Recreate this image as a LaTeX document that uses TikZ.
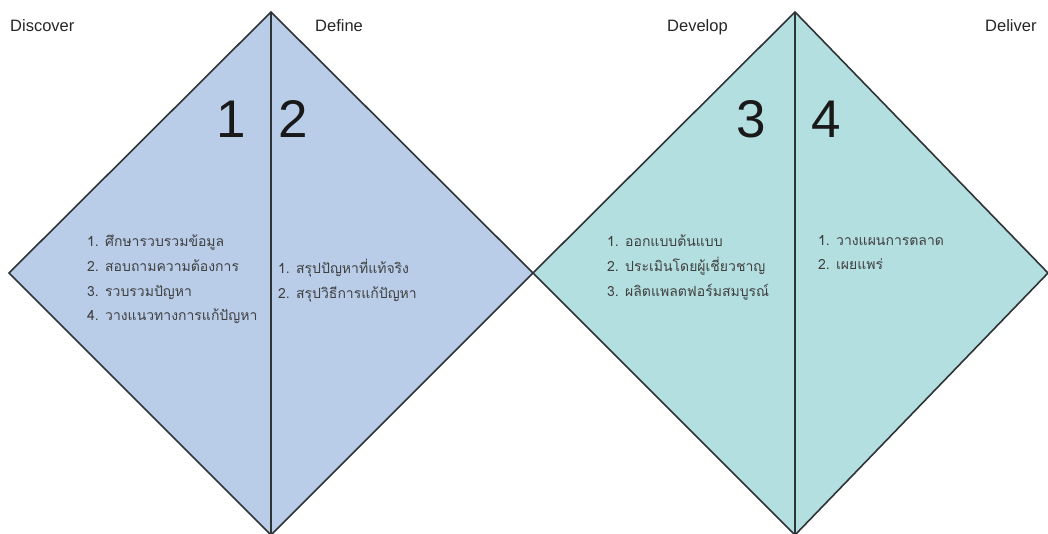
\documentclass[tikz,border=0pt]{standalone}
\usepackage{fontspec}
\setmainfont{Liberation Sans}
\newfontfamily\thaifont[Script=Thai]{Loma}
\definecolor{leftfill}{HTML}{B9CDE9}
\definecolor{rightfill}{HTML}{B4DFE0}
\definecolor{edge}{HTML}{2E3336}
\begin{document}
\begin{tikzpicture}[x=1pt,y=-1pt,
  frame/.style={draw=edge, line width=1.6pt, line join=miter},
  divider/.style={draw=edge, line width=1.6pt},
  phase/.style={font=\fontsize{16.5}{19}\selectfont, anchor=base west, inner sep=0, text=black!85},
  num/.style={font=\fontsize{53}{60}\selectfont, anchor=base, inner sep=0, text=black!90},
  items/.style={font=\thaifont\fontsize{14}{24.7}\selectfont, align=left, anchor=north west, inner sep=0, text=black!75}]
\useasboundingbox (0,0) rectangle (1048,534);
\begin{scope}
\clip (0,0) rectangle (1048,534);
% left diamond
\coordinate (lw) at (9,273);
\coordinate (lt) at (271,12);
\coordinate (mid) at (533,273);
\coordinate (lb) at (271,535);
% right diamond
\coordinate (rt) at (795,12);
\coordinate (re) at (1048,273);
\coordinate (rb) at (795,535);
\fill[leftfill] (lw) -- (lt) -- (mid) -- (lb) -- cycle;
\fill[rightfill] (mid) -- (rt) -- (re) -- (rb) -- cycle;
\draw[frame] (lb) -- (lw) -- (lt) -- (mid) -- (lb);
\draw[frame] (rb) -- (mid) -- (rt) -- (re) -- (rb);
\draw[divider] (lt) -- (lb);
\draw[divider] (rt) -- (rb);
\end{scope}
% phase labels
\node[phase] (discover) at (10,32) {Discover};
\node[phase] (define) at (315,32) {Define};
\node[phase] (develop) at (667,32) {Develop};
\node[phase] (deliver) at (985,32) {Deliver};
% numbers
\node[num] (n1) at (231,138) {1};
\node[num] (n2) at (293,138) {2};
\node[num] (n3) at (751,138) {3};
\node[num] (n4) at (826,138) {4};
% lists
\node[items] (l1) at (87,235) {1. ศึกษารวบรวมข้อมูล\\2. สอบถามความต้องการ\\3. รวบรวมปัญหา\\4. วางแนวทางการแก้ปัญหา};
\node[items] (l2) at (278,259) {1. สรุปปัญหาที่แท้จริง\\2. สรุปวิธีการแก้ปัญหา};
\node[items] (l3) at (607,235) {1. ออกแบบต้นแบบ\\2. ประเมินโดยผู้เชี่ยวชาญ\\3. ผลิตแพลตฟอร์มสมบูรณ์};
\node[items] (l4) at (818,235) {1. วางแผนการตลาด\\2. เผยแพร่};
\end{tikzpicture}
\end{document}
